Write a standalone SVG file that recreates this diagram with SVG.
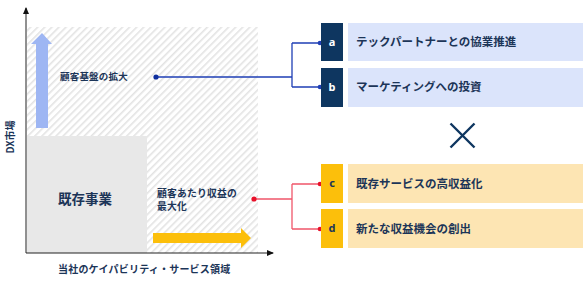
<svg xmlns="http://www.w3.org/2000/svg" width="583" height="282" viewBox="0 0 583 282">
<defs>
<pattern id="hatch" width="5" height="5" patternUnits="userSpaceOnUse" patternTransform="rotate(45)">
<rect width="5" height="5" fill="#ffffff"/>
<rect x="0" y="0" width="1.6" height="5" fill="#e3e3e3"/>
</pattern>
<marker id="ah" markerWidth="8" markerHeight="8" refX="6" refY="4" orient="auto" markerUnits="userSpaceOnUse">
<path d="M0,1 L7,4 L0,7 Z" fill="#111"/>
</marker>
<style>
.t{font-family:"Noto Sans CJK JP","Noto Sans",sans-serif;font-weight:bold;fill:#1c3558}
.lbl{font-family:"Noto Sans","Liberation Sans",sans-serif;font-weight:bold;font-size:11px;text-anchor:middle}
.bl{stroke:#1f3fb5;stroke-width:1.3;fill:none}
.rd{stroke:#f0566a;stroke-width:1.3;fill:none}
</style>
</defs>
<rect width="583" height="282" fill="#ffffff"/>
<g id="chart">
<rect x="27" y="27" width="231" height="226" fill="url(#hatch)"/>
<rect x="27" y="136" width="120" height="117" fill="#e8e8e8"/>
<path d="M36,128 V44 H31 L42,33 L52,44 H48 V128 Z" fill="#9eb6f3"/>
<path d="M153,233 H241 V228 L251,238 L241,248 V243 H153 Z" fill="#fcbf0b"/>
<line x1="26" y1="253" x2="26" y2="8" stroke="#222" stroke-width="1" marker-end="url(#ah)"/>
<line x1="26" y1="253" x2="273" y2="253" stroke="#222" stroke-width="1" marker-end="url(#ah)"/>
<text class="t" x="9" y="137" font-size="10" text-anchor="middle" transform="rotate(-90 9 137)" dominant-baseline="central">DX市場</text>
<text class="t" x="58" y="273" font-size="10" letter-spacing="0.2">当社のケイパビリティ・サービス領域</text>
<text class="t" x="60" y="80" font-size="9.5" letter-spacing="0.2">顧客基盤の拡大</text>
<text class="t" x="58" y="204" font-size="13.5">既存事業</text>
<text class="t" x="157" y="197" font-size="9.8" letter-spacing="0.2">顧客あたり収益の</text>
<text class="t" x="157" y="209.5" font-size="9.8" letter-spacing="0.2">最大化</text>
</g>
<g id="connectors">
<path class="bl" d="M156,77 H292 M292,43 V87 M292,43 H320 M292,87 H320"/>
<circle cx="156" cy="77" r="2.6" fill="#0f2f9e"/>
<circle cx="320" cy="43" r="2.3" fill="#1f3fb5"/>
<circle cx="320" cy="87" r="2.3" fill="#1f3fb5"/>
<path class="rd" d="M254,199 H292 M292,184 V229 M292,184 H320 M292,229 H320"/>
<circle cx="254" cy="199" r="2.6" fill="#e8102a"/>
<circle cx="320" cy="184" r="2.3" fill="#e8102a"/>
<circle cx="320" cy="229" r="2.3" fill="#e8102a"/>
</g>
<g id="node-a">
<rect x="321" y="23" width="22" height="38" fill="#0e3660"/>
<text class="lbl" x="332" y="46" fill="#ffffff">a</text>
<rect x="348" y="23" width="235" height="38" fill="#dbe4fb"/>
<text class="t" x="356" y="46" font-size="11.5">テックパートナーとの協業推進</text>
</g>
<g id="node-b">
<rect x="321" y="68" width="22" height="39" fill="#0e3660"/>
<text class="lbl" x="332" y="91" fill="#ffffff">b</text>
<rect x="348" y="68" width="235" height="39" fill="#dbe4fb"/>
<text class="t" x="356" y="91" font-size="11.5">マーケティングへの投資</text>
</g>
<g id="cross">
<path d="M450.5,123.5 L474.5,147.5 M474.5,123.5 L450.5,147.5" stroke="#0e3660" stroke-width="2.4"/>
</g>
<g id="node-c">
<rect x="321" y="164" width="22" height="39" fill="#fcbf0b"/>
<text class="lbl" x="332" y="187" fill="#1c3558">c</text>
<rect x="348" y="164" width="235" height="39" fill="#fde5b3"/>
<text class="t" x="356" y="188" font-size="11.5">既存サービスの高収益化</text>
</g>
<g id="node-d">
<rect x="321" y="209" width="22" height="39" fill="#fcbf0b"/>
<text class="lbl" x="332" y="232" fill="#1c3558">d</text>
<rect x="348" y="209" width="235" height="39" fill="#fde5b3"/>
<text class="t" x="356" y="233" font-size="11.5">新たな収益機会の創出</text>
</g>
</svg>
